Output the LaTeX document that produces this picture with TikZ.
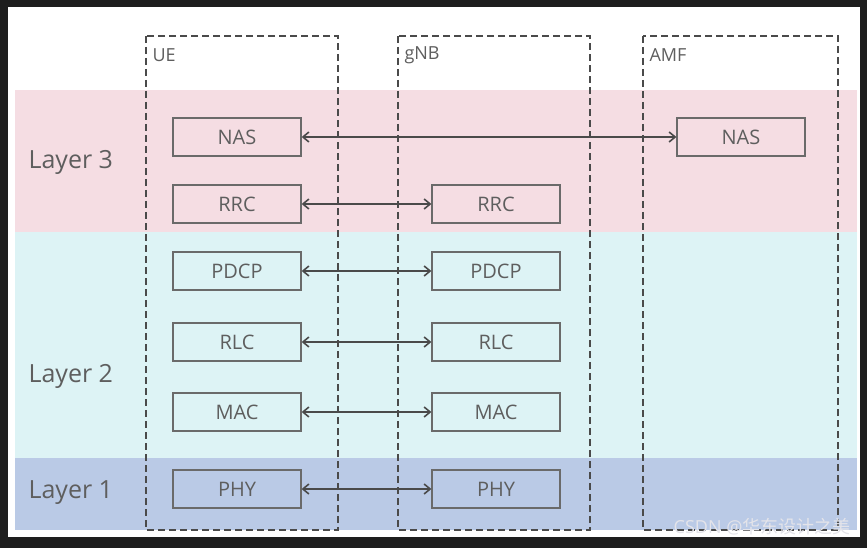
\documentclass[tikz,border=0pt]{standalone}
\usepackage{fontspec}
\setmainfont{Open Sans}
\newfontfamily\cjkfont{Noto Sans CJK SC}
\usetikzlibrary{arrows.meta}
\definecolor{frame}{HTML}{1E1E1E}
\definecolor{bandpink}{HTML}{F5DDE3}
\definecolor{bandcyan}{HTML}{DDF3F5}
\definecolor{bandblue}{HTML}{BACAE6}
\definecolor{boxline}{HTML}{6A6A6A}
\definecolor{txt}{HTML}{5E5E5E}
\definecolor{arrowc}{HTML}{4A4A4A}
\definecolor{mark}{HTML}{E4E4EA}
\tikzset{
  layer/.style={draw=boxline, line width=1.3pt, minimum width=128pt, minimum height=38pt,
    inner sep=0pt, text=txt, font=\fontsize{20}{20}\selectfont},
  entity/.style={draw=arrowc, dashed, dash pattern=on 7pt off 4pt, line width=1.4pt},
  peer/.style={arrowc, line width=1.6pt, {Straight Barb[length=6pt,width=10pt]}-{Straight Barb[length=6pt,width=10pt]}},
  layername/.style={anchor=west, text=txt, font=\fontsize{25}{25}\selectfont},
  colname/.style={anchor=west, text=txt, font=\fontsize{18}{18}\selectfont}
}
\begin{document}
\begin{tikzpicture}[x=1pt,y=-1pt]
\useasboundingbox (0,0) rectangle (867,548);
% screen frame and page
\fill[frame] (0,0) rectangle (867,548);
\fill[white] (8,7) rectangle (860,537);
% protocol layer bands
\fill[bandpink] (15,90) rectangle (857,232);
\fill[bandcyan] (15,232) rectangle (857,458);
\fill[bandblue] (15,458) rectangle (857,530);
% layer names
\node[layername] (l3) at (25,162) {Layer 3};
\node[layername] (l2) at (25,376) {Layer 2};
\node[layername] (l1) at (25,493) {Layer 1};
% network entities
\draw[entity] (146,36) rectangle (338,530);
\draw[entity] (398,36) rectangle (590,530);
\draw[entity] (643,36) rectangle (838,530);
\node[colname] (ue) at (149,55) {UE};
\node[colname] (gnb) at (401,55) {gNB};
\node[colname] (amf) at (646,55) {AMF};
% UE stack
\node[layer] (uenas) at (237,137) {NAS};
\node[layer] (uerrc) at (237,204) {RRC};
\node[layer] (uepdcp) at (237,271) {PDCP};
\node[layer] (uerlc) at (237,342) {RLC};
\node[layer] (uemac) at (237,412) {MAC};
\node[layer] (uephy) at (237,489) {PHY};
% gNB stack
\node[layer] (grrc) at (496,204) {RRC};
\node[layer] (gpdcp) at (496,271) {PDCP};
\node[layer] (grlc) at (496,342) {RLC};
\node[layer] (gmac) at (496,412) {MAC};
\node[layer] (gphy) at (496,489) {PHY};
% AMF stack
\node[layer] (anas) at (741,137) {NAS};
% peer links
\draw[peer] (uenas) -- (anas);
\draw[peer] (uerrc) -- (grrc);
\draw[peer] (uepdcp) -- (gpdcp);
\draw[peer] (uerlc) -- (grlc);
\draw[peer] (uemac) -- (gmac);
\draw[peer] (uephy) -- (gphy);
% watermark
\node[anchor=east, text=mark, font=\fontsize{18}{18}\selectfont] (wm) at (854,527) {CSDN @{\cjkfont 华东设计之美}};
\end{tikzpicture}
\end{document}
